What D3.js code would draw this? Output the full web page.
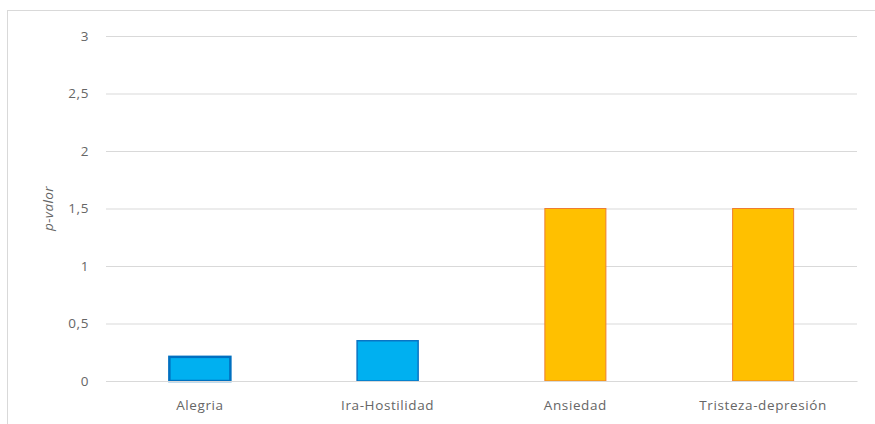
<!DOCTYPE html>
<html>
<head>
<meta charset="utf-8">
<script src="https://cdn.jsdelivr.net/npm/d3@7"></script>
<style>
  body { margin: 0; background: #fff; }
  text { font-family: "Open Sans", sans-serif; fill: #666; }
</style>
</head>
<body>
<script>
const categories = ["Alegria", "Ira-Hostilidad", "Ansiedad", "Tristeza-depresión"];
const values = [0.21, 0.35, 1.5, 1.5];
const fills = ["#00b0f0", "#00b0f0", "#ffc000", "#ffc000"];
const strokes = ["#0070c0", "#0a74c4", "#ed7d31", "#ed7d31"];
const strokeWidths = [2.5, 1.5, 1, 1];
const yTicks = [0, 0.5, 1, 1.5, 2, 2.5, 3];

const width = 875, height = 424;
const margin = {top: 36, right: 18, bottom: 43, left: 106};
const font = "'Open Sans', sans-serif";

const svg = d3.select("body").append("svg")
    .attr("width", width)
    .attr("height", height);

// chart frame
svg.append("rect")
    .attr("x", 7.5).attr("y", 10.5)
    .attr("width", width).attr("height", height)
    .attr("fill", "none").attr("stroke", "#d9d9d9");

const x = d3.scaleBand()
    .domain(categories)
    .range([margin.left, width - margin.right])
    .paddingInner(0.675)
    .paddingOuter(0.3375);

const y = d3.scaleLinear()
    .domain([0, 3])
    .range([height - margin.bottom, margin.top]);

const fmt = d => String(d).replace(".", ",");

svg.append("g")
    .attr("transform", `translate(${margin.left},0)`)
    .call(d3.axisLeft(y).tickValues(yTicks).tickFormat(fmt)
        .tickSize(-(width - margin.left - margin.right)).tickPadding(17))
    .call(g => g.select(".domain").remove())
    .call(g => g.selectAll(".tick line").attr("stroke", "#d9d9d9"))
    .call(g => g.selectAll(".tick text").attr("font-size", 13.5).attr("fill", "#666")
        .attr("letter-spacing", 0.6).style("font-family", font));

svg.append("g")
    .selectAll("rect")
    .data(categories)
    .join("rect")
      .attr("x", d => x(d))
      .attr("y", (d, i) => y(values[i]))
      .attr("width", x.bandwidth())
      .attr("height", (d, i) => y(0) - y(values[i]))
      .attr("fill", (d, i) => fills[i])
      .attr("stroke", (d, i) => strokes[i])
      .attr("stroke-width", (d, i) => strokeWidths[i]);

svg.append("g")
    .attr("transform", `translate(0,${height - margin.bottom})`)
    .call(d3.axisBottom(x).tickSize(0).tickPadding(19))
    .call(g => g.select(".domain").attr("stroke", "#d9d9d9"))
    .call(g => g.selectAll(".tick text").attr("font-size", 13.5).attr("fill", "#666")
        .attr("letter-spacing", 0.6).style("font-family", font));

svg.append("text")
    .attr("transform", `translate(53,${y(1.5)}) rotate(-90)`)
    .attr("text-anchor", "middle")
    .attr("font-size", 13.5)
    .attr("font-style", "italic")
    .attr("letter-spacing", 0.4)
    .style("font-family", font)
    .text("p-valor");
</script>
</body>
</html>
